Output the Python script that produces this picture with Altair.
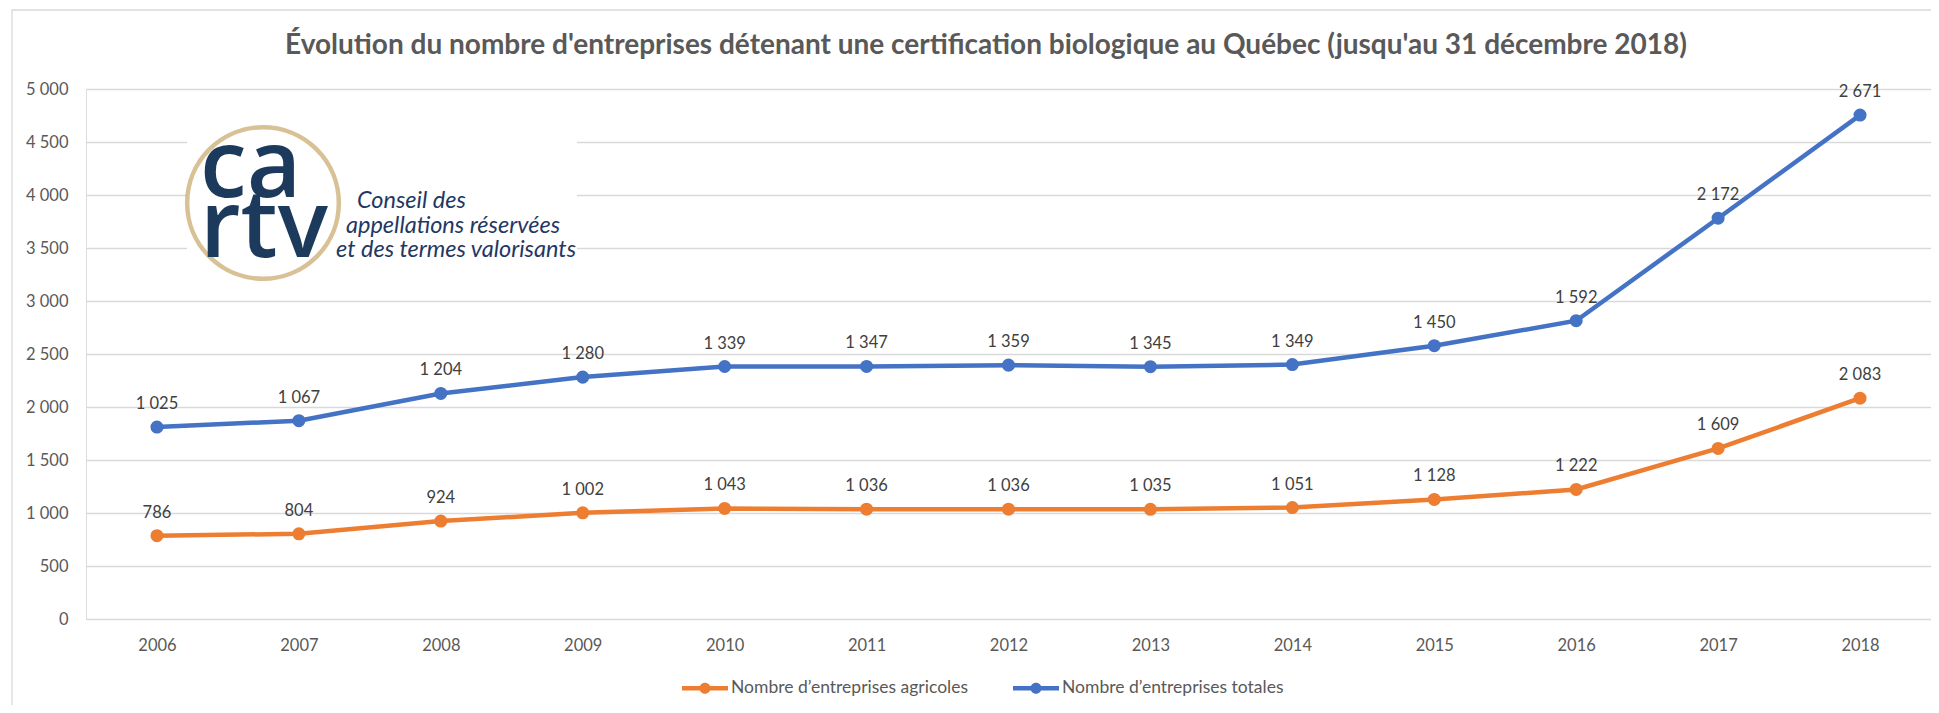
import altair as alt
import pandas as pd

annees = [str(a) for a in range(2006, 2019)]
agricoles = [786, 804, 924, 1002, 1043, 1036, 1036, 1035, 1051, 1128, 1222, 1609, 2083]
totales = [1025, 1067, 1204, 1280, 1339, 1347, 1359, 1345, 1349, 1450, 1592, 2172, 2671]
series = ["Nombre d\u2019entreprises agricoles", "Nombre d\u2019entreprises totales"]
couleurs = ["#ED7D31", "#4472C4"]
y_ticks = list(range(0, 5001, 500))

titre = ("\u00c9volution du nombre d'entreprises d\u00e9tenant une certification "
         "biologique au Qu\u00e9bec (jusqu'au 31 d\u00e9cembre 2018)")

rows = []
for i, a in enumerate(annees):
    rows.append({"annee": a, "serie": series[0], "valeur": agricoles[i], "pos": agricoles[i]})
    rows.append({"annee": a, "serie": series[1], "valeur": totales[i], "pos": agricoles[i] + totales[i]})
df = pd.DataFrame(rows)
df["label"] = df["valeur"].map(lambda v: f"{v:,}".replace(",", " "))

FONT = "Lato"
GRAY = "#595959"
W, H = 1845, 530

x_enc = alt.X("annee:N", sort=annees, title=None,
              scale=alt.Scale(paddingInner=0, paddingOuter=0.5),
              axis=alt.Axis(labelAngle=0, ticks=False, domain=False, labelPadding=18,
                            labelFontSize=16.5, labelColor=GRAY, labelFont=FONT, grid=False))
y_enc = alt.Y("pos:Q", title=None,
              scale=alt.Scale(domain=[0, 5000], nice=False),
              axis=alt.Axis(values=y_ticks, ticks=False, domain=False, labelPadding=18,
                            labelFontSize=16.5, labelColor=GRAY, labelFont=FONT,
                            gridColor="#D9D9D9", gridWidth=1.3,
                            labelExpr="replace(format(datum.value, ','), ',', ' ')"))
color_scale = alt.Scale(domain=series, range=couleurs)

legend_path = ("M-1,-0.1L-0.2,-0.1L-0.2,0.1L-1,0.1Z "
               "M0.2,-0.1L1,-0.1L1,0.1L0.2,0.1Z "
               "M0.24,0A0.24,0.24,0,1,1,-0.24,0A0.24,0.24,0,1,1,0.24,0Z")
legend = alt.Legend(orient="none", legendX=596, legendY=576, title=None,
                    direction="horizontal", symbolType=legend_path,
                    symbolSize=2116, symbolStrokeWidth=0, symbolOpacity=1,
                    labelFontSize=17.5, labelFont=FONT, labelColor=GRAY,
                    labelOffset=3, columnPadding=44, labelLimit=400)
color_enc = alt.Color("serie:N", scale=color_scale, sort=series, title=None, legend=legend)

base = alt.Chart(df)

one = pd.DataFrame({"k": [0]})

# frame, title and logo decorations
frame = alt.Chart(one).mark_rect(
    fill="transparent", stroke="#D9D9D9", strokeWidth=1.3
).encode(x=alt.value(-74), x2=alt.value(1900), y=alt.value(-79), y2=alt.value(700))

title_mark = alt.Chart(pd.DataFrame({"t": [titre]})).mark_text(
    align="center", baseline="middle", fontSize=28, font=FONT, fontWeight="bold", color=GRAY
).encode(x=alt.value(900), y=alt.value(-43), text="t:N")

logo_bg = alt.Chart(one).mark_rect(fill="#FFFFFF", stroke=None).encode(
    x=alt.value(101), x2=alt.value(491), y=alt.value(34), y2=alt.value(193))

ring = alt.Chart(one).mark_point(
    shape="circle", filled=False, stroke="#C9A76B", strokeWidth=4.5, size=23000
).encode(x=alt.value(177), y=alt.value(114))

def logo_text(txt, x, y, size, italic=False, weight="normal", font=FONT, color="#1B3A5C"):
    return alt.Chart(pd.DataFrame({"t": [txt]})).mark_text(
        align="left", baseline="alphabetic", fontSize=size, font=font,
        fontStyle="italic" if italic else "normal", fontWeight=weight, color=color
    ).encode(x=alt.value(x), y=alt.value(y), text="t:N")

logo = [
    logo_text("ca", 114, 108, 94, font="Open Sans", weight=600),
    logo_text("rtv", 114, 168, 94, font="Open Sans", weight=600),
    logo_text("Conseil des", 271, 119, 23.5, italic=True, color="#1F3864"),
    logo_text("appellations r\u00e9serv\u00e9es", 260, 144, 23.5, italic=True, color="#1F3864"),
    logo_text("et des termes valorisants", 250, 168, 23.5, italic=True, color="#1F3864"),
]

lines = base.mark_line(strokeWidth=4.5).encode(
    x=x_enc, y=y_enc, color=color_enc, detail="serie:N",
)
points = base.mark_point(filled=True, size=170, opacity=1, shape="circle").encode(
    x=x_enc, y=y_enc, color=color_enc,
)
labels = base.mark_text(dy=-23, fontSize=16.5, font=FONT, color="#404040").encode(
    x=x_enc, y=y_enc, text="label:N")

chart = alt.layer(frame, title_mark, logo_bg, ring, *logo, lines, points, labels).properties(
    width=W, height=H,
    autosize=alt.AutoSizeParams(type="none"),
    padding={"left": 78, "top": 81, "right": 0, "bottom": 86},
).configure_view(stroke=None).configure(background="white")

chart.save("out.html", embed_options={"renderer": "svg", "actions": False})
